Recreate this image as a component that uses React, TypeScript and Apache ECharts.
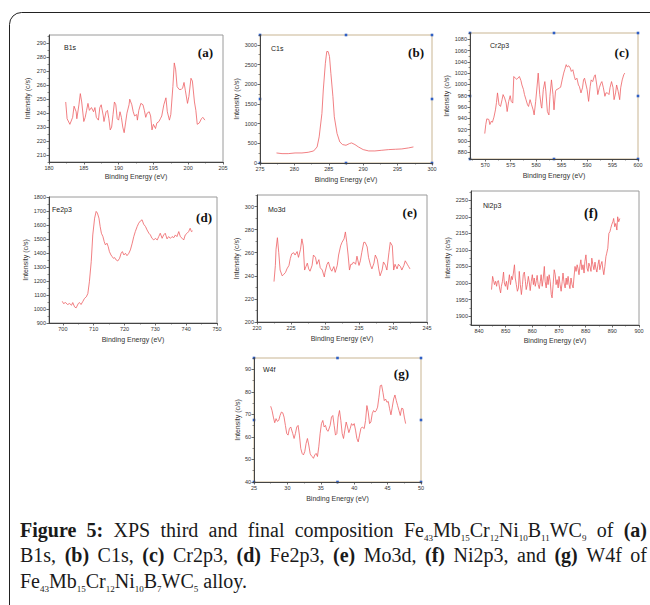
import React, { useEffect, useRef } from "react";
import * as echarts from "echarts";

// ---------- data ----------
const B1S_X = [182.4,182.6,183.0,183.4,183.6,183.9,184.0,184.3,184.5,184.7,185.0,185.2,185.4,185.6,185.8,186.1,186.4,186.6,186.8,187.1,187.3,187.5,187.8,187.9,188.2,188.4,188.6,188.8,189.0,189.2,189.4,189.6,189.8,190.0,190.2,190.4,190.6,190.8,191.0,191.2,191.5,191.6,191.9,192.1,192.3,192.6,192.7,192.9,193.2,193.5,193.7,193.9,194.1,194.4,194.6,194.8,195.0,195.3,195.5,195.8,196.0,196.2,196.5,196.8,197.0,197.3,197.5,197.8,198.0,198.2,198.4,198.7,199.0,199.2,199.4,199.6,199.9,200.1,200.4,200.6,200.9,201.1,201.3,201.6,201.9,202.1,202.4];
const B1S_Y = [248,236,232,237,245,241,236,246,254,248,234,237,242,247,242,244,241,244,237,235,244,246,238,234,241,242,236,228,230,239,248,246,236,235,241,237,230,226,233,240,246,250,246,241,238,239,235,242,247,246,242,237,240,241,238,228,232,229,233,234,236,238,246,251,241,235,239,259,276,271,259,257,257,258,262,256,247,252,265,263,248,242,232,233,236,237,235];
const B1S_XTICKS = [180,185,190,195,200,205];
const B1S_YTICKS = [210,220,230,240,250,260,270,280,290];

const C1S_X = [277.4,278.2,279.1,280.1,281.1,282.0,282.8,283.3,283.6,284.0,284.2,284.5,284.7,284.9,285.1,285.3,285.6,285.8,286.2,286.6,287.0,287.5,288.0,288.3,288.8,289.3,290.0,290.8,291.7,292.7,293.7,294.7,295.6,296.6,297.3];
const C1S_Y = [255,238,238,255,255,272,306,408,663,1258,1853,2533,2830,2830,2703,2278,1683,1173,748,535,468,450,493,510,468,408,340,306,306,323,340,349,357,383,408];
const C1S_XTICKS = [275,280,285,290,295,300];
const C1S_YTICKS = [0,500,1000,1500,2000,2500,3000];

const CR_X = [569.9,570.1,570.3,570.7,570.9,571.2,571.4,571.7,572.0,572.2,572.4,572.7,573.0,573.3,573.5,573.8,574.1,574.3,574.6,574.9,575.1,575.4,575.6,575.9,576.2,576.4,576.7,577.0,577.2,577.5,577.7,578.0,578.3,578.5,578.8,579.1,579.4,579.6,579.9,580.2,580.4,580.7,581.0,581.1,581.4,581.7,581.9,582.2,582.5,582.7,583.0,583.3,583.5,583.8,584.0,584.3,584.6,584.8,585.1,585.4,585.6,585.9,586.1,586.4,586.7,586.9,587.2,587.5,587.7,588.0,588.3,588.5,588.8,589.1,589.3,589.5,589.8,590.0,590.3,590.6,590.8,591.1,591.4,591.6,591.9,592.1,592.4,592.7,592.9,593.2,593.5,593.7,594.0,594.3,594.5,594.8,595.1,595.3,595.6,595.8,596.1,596.4,596.6,596.9,597.2,597.4];
const CR_Y = [913,929,939,938,929,935,933,942,955,968,985,964,961,973,982,976,967,952,970,980,970,967,1014,1011,1009,1011,1014,1007,999,991,982,973,964,961,973,964,955,946,970,999,1020,982,961,958,991,1005,988,952,946,979,1008,982,955,988,991,992,994,995,1008,1020,1026,1035,1031,1033,1029,1023,1026,1014,1008,1011,999,996,985,994,1008,1011,999,991,970,996,1008,1005,1014,1017,999,982,994,1002,1005,994,979,985,985,982,994,1005,994,973,985,999,988,973,994,1008,1017,1020];
const CR_XTICKS = [570,575,580,585,590,595,600];
const CR_YTICKS = [880,900,920,940,960,980,1000,1020,1040,1060,1080];

const FE_X = [699.8,700.2,700.9,701.5,702.2,702.8,703.2,703.8,704.3,705.0,705.4,705.9,706.5,707.0,707.6,708.1,708.6,709.2,709.7,710.3,710.8,711.2,711.7,712.1,712.5,713.0,713.4,713.8,714.3,714.7,715.1,715.6,716.0,716.4,716.8,717.3,717.8,718.4,718.9,719.3,719.8,720.3,720.8,721.4,721.9,722.5,723.0,723.5,724.1,724.6,725.2,725.7,726.2,726.8,727.3,727.9,728.4,728.9,729.5,730.0,730.6,731.1,731.6,732.2,732.7,733.2,733.8,734.3,734.9,735.4,736.0,736.5,737.0,737.6,738.1,738.7,739.2,739.7,740.3,740.8,741.3,741.7,742.1];
const FE_Y = [1055,1039,1046,1032,1039,1027,1046,1015,1008,1039,1046,1032,1055,1075,1087,1110,1194,1338,1529,1649,1697,1685,1649,1589,1541,1517,1482,1458,1470,1446,1410,1386,1374,1362,1367,1350,1343,1362,1398,1410,1386,1398,1381,1398,1422,1470,1517,1553,1589,1613,1630,1637,1606,1589,1565,1541,1529,1505,1493,1505,1493,1517,1541,1505,1529,1541,1501,1517,1505,1517,1510,1529,1517,1553,1517,1505,1493,1529,1541,1553,1577,1553,1558];
const FE_XTICKS = [700,710,720,730,740,750];
const FE_YTICKS = [900,1000,1100,1200,1300,1400,1500,1600,1700,1800];

const MO_X = [222.5,222.7,222.8,223.0,223.2,223.4,223.7,223.9,224.2,224.4,224.7,224.9,225.1,225.4,225.6,225.9,226.1,226.4,226.6,226.8,227.0,227.2,227.4,227.6,227.8,228.1,228.3,228.6,228.8,229.1,229.3,229.6,229.9,230.0,230.3,230.5,230.8,231.0,231.3,231.5,231.8,232.0,232.3,232.5,232.8,233.0,233.2,233.4,233.6,233.8,234.0,234.2,234.5,234.7,235.0,235.2,235.4,235.7,235.9,236.2,236.4,236.7,236.9,237.2,237.4,237.7,237.9,238.1,238.4,238.6,238.9,239.1,239.4,239.6,239.9,240.1,240.3,240.6,240.8,241.1,241.3,241.6,241.8,242.1,242.3,242.5];
const MO_Y = [235,249,263,273,260,245,240,241,243,246,249,255,259,260,258,261,256,263,272,266,245,248,251,246,244,249,258,256,250,254,247,245,239,243,250,252,246,244,248,243,249,258,266,269,272,278,269,258,245,250,250,252,250,257,249,253,260,269,269,265,256,249,246,251,258,254,246,240,245,252,249,245,260,269,266,245,250,246,250,248,245,249,253,250,248,246];
const MO_XTICKS = [220,225,230,235,240,245];
const MO_YTICKS = [200,220,240,260,280,300];

const NI_X = [844.7,845.1,845.4,845.8,846.2,846.6,846.9,847.3,847.7,848.1,848.4,848.8,849.2,849.5,849.9,850.3,850.7,851.0,851.4,851.8,852.2,852.5,852.9,853.3,853.6,854.0,854.4,854.8,855.1,855.5,855.9,856.3,856.6,857.0,857.4,857.7,858.1,858.5,858.9,859.2,859.6,860.0,860.4,860.7,861.1,861.5,861.8,862.2,862.6,863.0,863.3,863.7,864.1,864.5,864.8,865.2,865.6,865.9,866.3,866.7,867.1,867.4,867.8,868.2,868.6,868.9,869.3,869.7,870.0,870.4,870.8,871.2,871.5,871.9,872.3,872.7,873.0,873.4,873.8,874.1,874.5,874.9,875.3,875.6,876.0,876.4,876.8,877.1,877.5,877.9,878.2,878.6,879.0,879.4,879.7,880.1,880.5,880.9,881.2,881.6,882.0,882.3,882.7,883.1,883.5,883.8,884.2,884.6,885.0,885.3,885.7,886.1,886.4,886.8,887.2,887.6,887.9,888.3,888.7,889.1,889.4,889.8,890.2,890.5,890.9,891.3,891.7,892.0,892.4,892.8];
const NI_Y = [1980,2020,2010,1995,2005,1990,2005,2007,1985,1970,1990,2005,2033,2000,1990,2005,1980,2000,2025,1995,2020,2010,2030,2055,2015,1995,1975,1985,2035,1995,1965,1995,2025,2033,2005,1980,1995,2020,2000,1977,2005,2025,1995,2015,1990,2007,2023,1995,1983,2005,2025,1990,2015,2050,2005,1985,2020,1995,2025,2005,1965,1955,1995,2040,2025,1995,2010,1985,2020,1995,1975,2005,2030,2000,1985,2015,1995,2020,1995,1983,2015,1995,1985,2015,2050,2035,2055,2045,2025,2055,2070,2040,2055,2030,2065,2085,2045,2035,2060,2050,2035,2075,2055,2040,2063,2045,2033,2055,2070,2040,2055,2065,2045,2025,2050,2080,2090,2105,2150,2155,2165,2177,2185,2195,2170,2180,2160,2200,2185,2195];
const NI_XTICKS = [840,850,860,870,880,890,900];
const NI_YTICKS = [1900,1950,2000,2050,2100,2150,2200,2250];

const W_X = [27.5,27.7,27.9,28.1,28.3,28.5,28.7,28.9,29.1,29.3,29.5,29.7,29.9,30.1,30.3,30.5,30.8,31.0,31.2,31.4,31.6,31.8,32.0,32.2,32.4,32.6,32.8,33.0,33.2,33.4,33.5,33.7,33.9,34.1,34.3,34.5,34.7,34.9,35.1,35.3,35.5,35.7,35.9,36.1,36.4,36.6,36.8,37.0,37.2,37.4,37.6,37.8,38.0,38.2,38.4,38.6,38.8,39.0,39.2,39.4,39.6,39.8,40.0,40.2,40.4,40.6,40.8,41.0,41.2,41.5,41.7,41.9,42.1,42.3,42.5,42.7,42.9,43.1,43.3,43.5,43.7,43.9,44.1,44.3,44.5,44.7,44.9,45.1,45.3,45.5,45.7,45.9,46.1,46.3,46.5,46.7,46.9,47.1,47.3,47.5,47.7];
const W_Y = [73.6,71.7,68.8,66.3,68.1,66.9,67.3,69.5,71,70.7,68.8,65.1,61.5,60.8,63.7,64.4,61.5,59.3,61.5,64.4,65.1,60.8,54.9,52.7,52,53.5,57.1,59.3,56.4,52.7,52,51.3,50.5,52,52.7,51.3,55.6,61.5,65.9,67.3,64.4,65.1,63,62.5,65.1,68.8,69.5,65.1,60.8,61.5,68.8,71.7,67.3,61.5,59.3,63,66.6,64.4,61.9,63.7,65.9,65.1,65.9,63,59.3,57.8,60.8,63.7,64.4,63.7,67.3,73.9,71,65.9,66.6,70.3,71.7,71,71.7,73.2,77.6,82.7,83,79.8,76.1,76.8,75.4,75.7,72.5,69.8,73.2,76.8,78.6,76.1,73.9,71.7,69.5,72.7,72.5,68.8,65.9];
const W_XTICKS = [25,30,35,40,45,50];
const W_YTICKS = [40,50,60,70,80,90];

const PANEL_NAMES = ["B1s", "C1s", "Cr2p3", "Fe2p3", "Mo3d", "Ni2p3", "W4f"];
const PANEL_TAGS = ["(a)", "(b)", "(c)", "(d)", "(e)", "(f)", "(g)"];
const X_TITLE = "Binding Energy (eV)";
const Y_TITLE = "Intensity (c/s)";

// ---------- layout ----------
const GRAY = "#9a9a9a";
const TAN = "#c9b592";
type Panel = {
  xs: number[]; ys: number[]; xr: [number, number]; yr: [number, number];
  xt: number[]; yt: number[]; box: [number, number, number, number];
  frame: string; handles: boolean; nameOff: [number, number]; tagOff: [number, number];
  yGap: number; xGap: number; tagSize: number;
};
const PANELS: Panel[] = [
  { xs: B1S_X, ys: B1S_Y, xr: [180, 205], yr: [205, 296], xt: B1S_XTICKS, yt: B1S_YTICKS, box: [49, 35, 174, 127], frame: GRAY, handles: false, nameOff: [15, 12], tagOff: [10, 17], yGap: 18, xGap: 11, tagSize: 13 },
  { xs: C1S_X, ys: C1S_Y, xr: [275, 300], yr: [0, 3250], xt: C1S_XTICKS, yt: C1S_YTICKS, box: [260, 35, 172, 128], frame: TAN, handles: true, nameOff: [11, 13], tagOff: [8, 17], yGap: 20, xGap: 13, tagSize: 13 },
  { xs: CR_X, ys: CR_Y, xr: [567, 600], yr: [868, 1091], xt: CR_XTICKS, yt: CR_YTICKS, box: [470, 33, 168, 126], frame: TAN, handles: true, nameOff: [20, 12], tagOff: [9, 19], yGap: 20, xGap: 13, tagSize: 13 },
  { xs: FE_X, ys: FE_Y, xr: [695.5, 750], yr: [900, 1800], xt: FE_XTICKS, yt: FE_YTICKS, box: [49, 197, 168, 126], frame: GRAY, handles: false, nameOff: [3, 12], tagOff: [5, 20], yGap: 20, xGap: 13, tagSize: 13 },
  { xs: MO_X, ys: MO_Y, xr: [220, 245], yr: [200, 310], xt: MO_XTICKS, yt: MO_YTICKS, box: [257, 195, 170, 127], frame: GRAY, handles: false, nameOff: [11, 14], tagOff: [10, 17], yGap: 17, xGap: 13, tagSize: 13 },
  { xs: NI_X, ys: NI_Y, xr: [837, 900], yr: [1873, 2278], xt: NI_XTICKS, yt: NI_YTICKS, box: [471, 191, 168, 134], frame: GRAY, handles: false, nameOff: [12, 14], tagOff: [41, 22], yGap: 20, xGap: 12, tagSize: 14 },
  { xs: W_X, ys: W_Y, xr: [25, 50], yr: [40, 95], xt: W_XTICKS, yt: W_YTICKS, box: [254, 358, 167, 124], frame: TAN, handles: true, nameOff: [9, 11], tagOff: [12, 15], yGap: 13, xGap: 13, tagSize: 13 },
];

const CAP_SIZE = 20;
const SUB_SIZE = 9;
const SUB_DROP = 4;
const CAP_FAMILY = '"Liberation Serif", "Times New Roman", serif';
const CAP_LEFT = 20;
const CAP_RIGHT = 647;
const CAP_BASELINES = [537, 562, 588];
const CAP_JUSTIFY = [true, true, false];
const CAPTION: [string, string][][] = [
  [["b", "Figure 5:"], ["n", " XPS third and final composition Fe"], ["s", "43"], ["n", "Mb"], ["s", "15"], ["n", "Cr"], ["s", "12"], ["n", "Ni"], ["s", "10"], ["n", "B"], ["s", "11"], ["n", "WC"], ["s", "9"], ["n", " of "], ["b", "(a)"]],
  [["n", "B1s, "], ["b", "(b)"], ["n", " C1s, "], ["b", "(c)"], ["n", " Cr2p3, "], ["b", "(d)"], ["n", " Fe2p3, "], ["b", "(e)"], ["n", " Mo3d, "], ["b", "(f)"], ["n", " Ni2p3, and "], ["b", "(g)"], ["n", " W4f of"]],
  [["n", "Fe"], ["s", "43"], ["n", "Mb"], ["s", "15"], ["n", "Cr"], ["s", "12"], ["n", "Ni"], ["s", "10"], ["n", "B"], ["s", "7"], ["n", "WC"], ["s", "5"], ["n", " alloy."]],
];

function minorValues(ticks: number[], min: number, max: number) {
  const step = ticks[1] - ticks[0];
  const out: number[] = [];
  for (let v = ticks[0] - step / 2; v >= min - 1e-9; v -= step) out.push(v);
  for (let v = ticks[0] + step / 2; v <= max + 1e-9; v += step) out.push(v);
  return out;
}

const SANS = '"Liberation Sans", Arial, sans-serif';

export default function App() {
  const ref = useRef<HTMLDivElement>(null);
  useEffect(() => {
    if (!ref.current) return;
    const chart = echarts.init(ref.current, undefined, { renderer: "svg" });

    const grid: any[] = [];
    const xAxis: any[] = [];
    const yAxis: any[] = [];
    const series: any[] = [];
    const graphic: any[] = [];

    graphic.push({
      type: "rect", silent: true,
      shape: { x: 9.5, y: 12.5, width: 800, height: 800, r: [12, 0, 0, 0] },
      style: { fill: "none", stroke: "#222", lineWidth: 1 },
    });

    const tickLabel = { fontSize: 5.5, color: "#333", fontFamily: SANS, margin: 3, formatter: (v: number) => String(v) };
    const nameStyle = { fontSize: 7, color: "#333", fontFamily: SANS };

    PANELS.forEach((p, i) => {
      const [l, t, w, h] = p.box;
      grid.push({ left: l, top: t, width: w, height: h, show: true, borderColor: p.frame, borderWidth: 1, backgroundColor: "transparent" });
      xAxis.push({
        gridIndex: i, type: "value", min: p.xr[0], max: p.xr[1],
        axisLine: { show: true, lineStyle: { color: "#444", width: 1 } },
        axisTick: { show: true, customValues: p.xt, length: 2.5, lineStyle: { color: "#444", width: 0.8 } },
        axisLabel: { ...tickLabel, customValues: p.xt },
        splitLine: { show: false },
        name: X_TITLE, nameLocation: "middle", nameGap: p.xGap, nameTextStyle: nameStyle,
      });
      xAxis.push({
        gridIndex: i, type: "value", min: p.xr[0], max: p.xr[1], position: "bottom",
        axisLine: { show: false },
        axisTick: { show: true, customValues: minorValues(p.xt, p.xr[0], p.xr[1]), length: 1.5, lineStyle: { color: "#444", width: 0.6 } },
        axisLabel: { show: false }, splitLine: { show: false },
      });
      yAxis.push({
        gridIndex: i, type: "value", min: p.yr[0], max: p.yr[1],
        axisLine: { show: true, lineStyle: { color: "#444", width: 1 } },
        axisTick: { show: true, customValues: p.yt, length: 2.5, lineStyle: { color: "#444", width: 0.8 } },
        axisLabel: { ...tickLabel, customValues: p.yt },
        splitLine: { show: false },
        name: Y_TITLE, nameLocation: "middle", nameGap: p.yGap, nameTextStyle: nameStyle,
      });
      yAxis.push({
        gridIndex: i, type: "value", min: p.yr[0], max: p.yr[1], position: "left",
        axisLine: { show: false },
        axisTick: { show: true, customValues: minorValues(p.yt, p.yr[0], p.yr[1]), length: 1.5, lineStyle: { color: "#444", width: 0.6 } },
        axisLabel: { show: false }, splitLine: { show: false },
      });
      const n = Math.min(p.xs.length, p.ys.length);
      const data: number[][] = [];
      for (let k = 0; k < n; k++) data.push([p.xs[k], p.ys[k]]);
      series.push({
        type: "line", xAxisIndex: i * 2, yAxisIndex: i * 2, data,
        showSymbol: false, symbol: "none", smooth: false,
        lineStyle: { color: "#ee5f63", width: 0.8 },
      });
      graphic.push({
        type: "text", silent: true, x: l + p.nameOff[0], y: t + p.nameOff[1],
        style: { text: PANEL_NAMES[i], fontSize: 7, fontFamily: SANS, fill: "#222", align: "left", verticalAlign: "middle" },
      });
      graphic.push({
        type: "text", silent: true, x: l + w - p.tagOff[0], y: t + p.tagOff[1],
        style: { text: PANEL_TAGS[i], fontSize: p.tagSize, fontWeight: "bold", fontFamily: CAP_FAMILY, fill: "#111", align: "right", verticalAlign: "middle" },
      });
      if (p.handles) {
        const pts = [
          [l, t], [l + w / 2, t], [l + w, t],
          [l, t + h / 2], [l + w, t + h / 2],
          [l, t + h], [l + w / 2, t + h], [l + w, t + h],
        ];
        pts.forEach(([hx, hy]) => {
          graphic.push({ type: "rect", silent: true, shape: { x: hx - 1.3, y: hy - 1.3, width: 2.6, height: 2.6 }, style: { fill: "#2f5fc4" } });
        });
      }
    });

    // caption (justified lines, real text)
    const canvas = document.createElement("canvas");
    const ctx = canvas.getContext("2d")!;
    const fontOf = (kind: string) =>
      kind === "b" ? `bold ${CAP_SIZE}px ${CAP_FAMILY}` : kind === "s" ? `${SUB_SIZE}px ${CAP_FAMILY}` : `${CAP_SIZE}px ${CAP_FAMILY}`;
    CAPTION.forEach((line, li) => {
      const tokens: { kind: string; text: string; w: number; space: boolean }[] = [];
      line.forEach(([kind, text]) => {
        ctx.font = fontOf(kind);
        text.split(/( )/).forEach((tk) => {
          if (!tk) return;
          tokens.push({ kind, text: tk, w: ctx.measureText(tk).width, space: tk === " " });
        });
      });
      const natural = tokens.reduce((s, t) => s + t.w, 0);
      const nSpaces = tokens.filter((t) => t.space).length;
      const extra = CAP_JUSTIFY[li] && nSpaces > 0 ? Math.max(0, (CAP_RIGHT - CAP_LEFT - natural) / nSpaces) : 0;
      let cx = CAP_LEFT;
      const base = CAP_BASELINES[li];
      tokens.forEach((tk) => {
        if (tk.space) { cx += tk.w + extra; return; }
        const size = tk.kind === "s" ? SUB_SIZE : CAP_SIZE;
        const bl = tk.kind === "s" ? base + SUB_DROP : base;
        graphic.push({
          type: "text", silent: true, x: cx, y: bl - 0.34 * size,
          style: { text: tk.text, fontSize: size, fontFamily: CAP_FAMILY, fontWeight: tk.kind === "b" ? "bold" : "normal", fill: "#1a1a1a", align: "left", verticalAlign: "middle" },
        });
        cx += tk.w;
      });
    });

    chart.setOption({ animation: false, backgroundColor: "#fff", grid, xAxis, yAxis, series, graphic });
    return () => chart.dispose();
  }, []);
  return <div ref={ref} style={{ position: "absolute", left: 0, top: 0, width: 650, height: 605 }} />;
}
